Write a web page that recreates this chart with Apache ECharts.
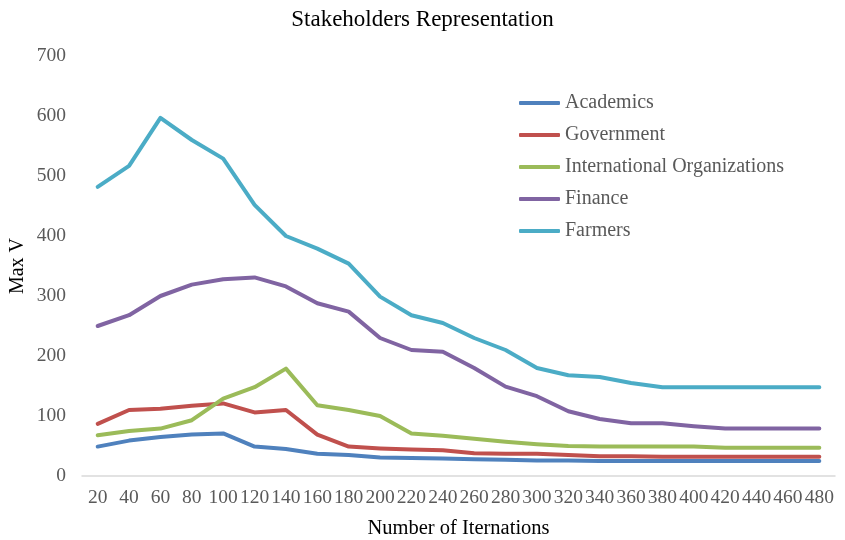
<!DOCTYPE html>
<html>
<head>
<meta charset="utf-8">
<script src="https://cdn.jsdelivr.net/npm/echarts@6/dist/echarts.min.js"></script>
<style>
  html, body { margin: 0; padding: 0; background: #fff; }
  #chart { width: 845px; height: 540px; }
</style>
</head>
<body>
<div id="chart"></div>
<script>
const iterations = ['20','40','60','80','100','120','140','160','180','200','220','240','260','280','300','320','340','360','380','400','420','440','460','480'];

const academics  = [49, 59, 65, 69, 71, 49, 45, 37, 35, 31, 30, 29, 28, 27, 26, 26, 25, 25, 25, 25, 25, 25, 25, 25];
const government = [87, 110, 112, 117, 121, 106, 110, 69, 49, 46, 44, 43, 38, 37, 37, 35, 33, 33, 32, 32, 32, 32, 32, 32];
const intlOrgs   = [68, 75, 79, 93, 129, 148, 179, 118, 110, 100, 71, 67, 62, 57, 53, 50, 49, 49, 49, 49, 47, 47, 47, 47];
const finance    = [250, 268, 300, 319, 328, 331, 316, 288, 274, 230, 210, 207, 180, 149, 133, 108, 95, 88, 88, 83, 79, 79, 79, 79];
const farmers    = [482, 517, 597, 560, 529, 452, 400, 379, 354, 299, 268, 255, 230, 210, 180, 168, 165, 155, 148, 148, 148, 148, 148, 148];

const serif = '"Liberation Serif", "Times New Roman", serif';
const textGray = '#595959';

const seriesDefs = [
  { name: 'Academics', data: academics, color: '#4f81bd' },
  { name: 'Government', data: government, color: '#c0504d' },
  { name: 'International Organizations', data: intlOrgs, color: '#9bbb59' },
  { name: 'Finance', data: finance, color: '#8064a2' },
  { name: 'Farmers', data: farmers, color: '#4bacc6' }
];

const chart = echarts.init(document.getElementById('chart'), null, { renderer: 'canvas' });
chart.setOption({
  animation: false,
  backgroundColor: '#fff',
  title: {
    text: 'Stakeholders Representation',
    left: 'center',
    top: 3,
    textStyle: { fontFamily: serif, fontSize: 23, fontWeight: 'normal', color: '#000' }
  },
  legend: {
    orient: 'vertical',
    left: 519,
    top: 93,
    padding: 0,
    itemWidth: 41,
    itemHeight: 4,
    itemGap: 12,
    icon: 'roundRect',
    textStyle: { fontFamily: serif, fontSize: 20, lineHeight: 20, color: textGray },
    data: seriesDefs.map(s => ({ name: s.name, itemStyle: { color: s.color } }))
  },
  grid: { left: 82, right: 10, top: 56, bottom: 64, containLabel: false, outerBoundsMode: 'none' },
  xAxis: {
    type: 'category',
    data: iterations,
    boundaryGap: true,
    name: 'Number of Iternations',
    nameLocation: 'middle',
    nameGap: 42,
    nameTextStyle: { fontFamily: serif, fontSize: 20.5, color: '#000' },
    axisLine: { lineStyle: { color: '#d9d9d9', width: 1.5 } },
    axisTick: { show: false },
    axisLabel: { interval: 0, fontFamily: serif, fontSize: 19.5, color: textGray, margin: 12 }
  },
  yAxis: {
    type: 'value',
    min: 0,
    max: 700,
    interval: 100,
    name: 'Max V',
    nameLocation: 'middle',
    nameGap: 54,
    nameMoveOverlap: false,
    nameTextStyle: { fontFamily: serif, fontSize: 20, color: '#000' },
    axisLine: { show: false },
    axisTick: { show: false },
    splitLine: { show: false },
    axisLabel: { fontFamily: serif, fontSize: 19.5, color: textGray, margin: 16 }
  },
  series: seriesDefs.map(s => ({
    name: s.name,
    type: 'line',
    data: s.data,
    symbol: 'none',
    smooth: false,
    lineStyle: { color: s.color, width: 4, cap: 'round', join: 'round' },
    itemStyle: { color: s.color }
  }))
});
</script>
</body>
</html>
